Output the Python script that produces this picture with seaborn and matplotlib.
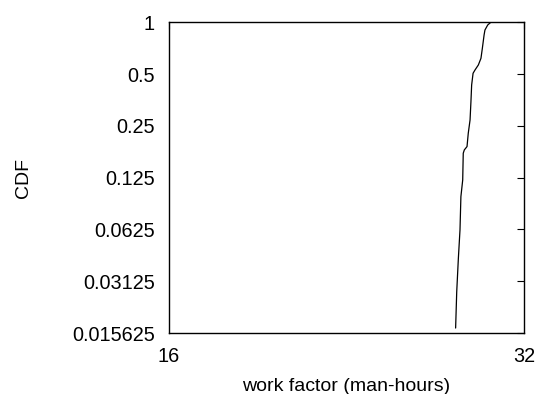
import matplotlib
matplotlib.use("Agg")
import matplotlib.pyplot as plt
import seaborn as sns
import pandas as pd
from matplotlib.ticker import FixedLocator, FixedFormatter, NullLocator

# Data
work_factor = [28.00, 28.06, 28.15, 28.24, 28.29, 28.39, 28.42, 28.48, 28.63, 28.70,
               28.80, 28.85, 28.89, 28.97, 29.08, 29.27, 29.42, 29.50, 29.60, 29.65,
               29.81, 29.99]
cdf = [0.0167, 0.0271, 0.0424, 0.0621, 0.0970, 0.1212, 0.1733, 0.1812, 0.1895, 0.2266,
       0.2705, 0.3456, 0.4322, 0.5054, 0.5282, 0.5648, 0.6176, 0.7059, 0.8438, 0.9019,
       0.9645, 1.0]
x_ticks = [16, 32]
x_tick_labels = ["16", "32"]
y_ticks = [0.015625, 0.03125, 0.0625, 0.125, 0.25, 0.5, 1]
y_tick_labels = ["0.015625", "0.03125", "0.0625", "0.125", "0.25", "0.5", "1"]

sns.set_theme(style="white")
plt.rcParams['font.family'] = ['Liberation Sans', 'DejaVu Sans']

df = pd.DataFrame({"x": work_factor, "y": cdf})

fig = plt.figure(figsize=(5.41, 3.94), dpi=100)
ax = fig.add_axes([0.3124, 0.1548, 0.9686 - 0.3124, 0.9434 - 0.1548])

sns.lineplot(data=df, x="x", y="y", sort=False, estimator=None, color="black",
             linewidth=0.9, ax=ax)

ax.set_xscale("log", base=2)
ax.set_yscale("log", base=2)
ax.set_xlim(16, 32)
ax.set_ylim(0.015625, 1)

ax.xaxis.set_major_locator(FixedLocator(x_ticks))
ax.xaxis.set_major_formatter(FixedFormatter(x_tick_labels))
ax.xaxis.set_minor_locator(NullLocator())
ax.yaxis.set_major_locator(FixedLocator(y_ticks))
ax.yaxis.set_major_formatter(FixedFormatter(y_tick_labels))
ax.yaxis.set_minor_locator(NullLocator())

ax.tick_params(axis="both", which="major", direction="in", length=5, width=0.8,
               color="black", labelsize=14.3, labelcolor="black",
               top=True, right=True, pad=10)

for s in ax.spines.values():
    s.set_color("black")
    s.set_linewidth(1.0)

ax.set_xlabel("work factor (man-hours)", fontsize=14, color="black", labelpad=9)
ax.set_ylabel("CDF", fontsize=14, color="black", labelpad=29)

fig.savefig("out.png", dpi=100)
